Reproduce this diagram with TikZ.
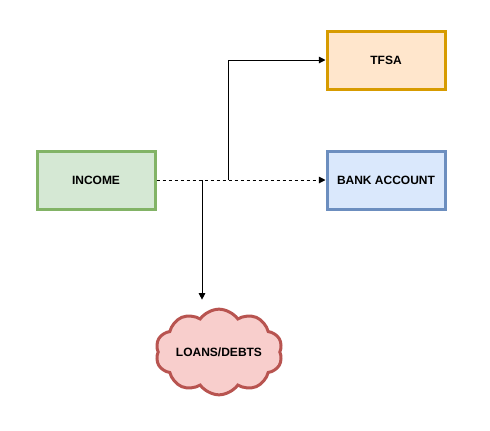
\documentclass[tikz,border=0pt]{standalone}
\usepackage{fontspec}
\setmainfont{Liberation Sans}
\usetikzlibrary{positioning,arrows.meta,shapes.symbols}

\definecolor{incfill}{HTML}{D5E8D4}
\definecolor{incdraw}{HTML}{82B366}
\definecolor{tfsafill}{HTML}{FFE6CC}
\definecolor{tfsadraw}{HTML}{D79B00}
\definecolor{bankfill}{HTML}{DAE8FC}
\definecolor{bankdraw}{HTML}{6C8EBF}
\definecolor{loanfill}{HTML}{F8CECC}
\definecolor{loandraw}{HTML}{B85450}

\begin{document}
\begin{tikzpicture}[
    x=0.75pt, y=-0.75pt,
    every node/.style={font=\bfseries\fontsize{9pt}{11pt}\selectfont},
    account/.style={rectangle, draw=#1draw, fill=#1fill, line width=2.25pt, minimum width=88.5pt, minimum height=43.5pt, align=center},
    debt/.style={cloud, cloud puffs=10, cloud puff arc=110, aspect=1.75, inner sep=0pt, draw=loandraw, fill=loanfill, line width=2.25pt, minimum width=92pt, minimum height=52pt, align=center},
    arrow/.style={-{Triangle[length=5pt, width=5pt]}, line width=0.75pt},
    dashedarrow/.style={-{Triangle[length=5pt, width=5pt]}, line width=0.75pt, dash pattern=on 2.25pt off 2.25pt}
]
\useasboundingbox (0,0) rectangle (490,430);

% === Nodes ===
\node[account=inc] (income) at (96,180) {INCOME};
\node[account=tfsa] (tfsa) at (386,60) {TFSA};
\node[account=bank] (bank) at (386,180) {BANK ACCOUNT};
\node[debt] (loans) at (219,352) {LOANS/DEBTS};

% === Split points on the main flow ===
\coordinate (splittfsa) at (228,180);
\coordinate (splitloans) at (202,180);

% === ARROWS ===
\draw[dashedarrow] (income) -- (bank);
\draw[arrow] (splittfsa) |- (tfsa);
\draw[arrow, shorten >=6pt] (splitloans) -- (splitloans |- loans.north);

\end{tikzpicture}
\end{document}
